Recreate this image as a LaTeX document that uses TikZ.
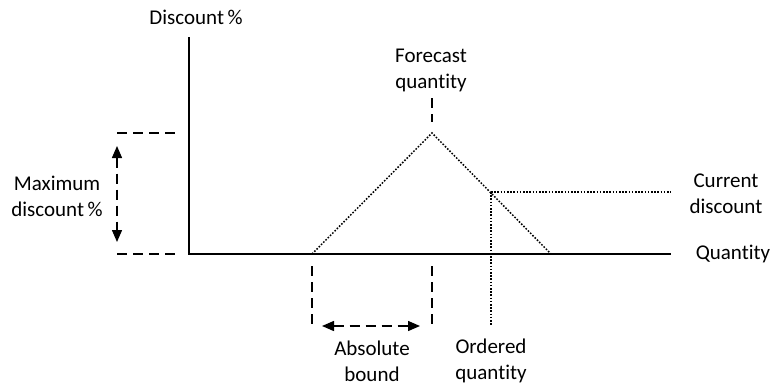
\documentclass[tikz,border=0pt]{standalone}
\usepackage{fontspec}
\setmainfont{Carlito}[Ligatures=NoCommon]
\usetikzlibrary{arrows.meta}
\begin{document}
\begin{tikzpicture}[x=1pt,y=-1pt,
  lbl/.style={align=center,inner sep=0pt,font=\fontsize{21}{26}\selectfont},
  axis/.style={line width=2pt},
  dashln/.style={line width=1.4pt,dash pattern=on 10pt off 6pt},
  dotln/.style={line width=1.5pt,dash pattern=on 1.6pt off 1.6pt},
  tip/.style={{Triangle[length=12pt,width=10pt]}-{Triangle[length=12pt,width=10pt]}}]
\useasboundingbox (0,0) rectangle (771,386);
% coordinates
\coordinate (O) at (189,254);
\coordinate (Ytop) at (189,37);
\coordinate (Xend) at (671,254);
\coordinate (A) at (312,254);
\coordinate (P) at (432,133);
\coordinate (B) at (551,254);
\coordinate (C) at (491,192);
\coordinate (Cend) at (671,192);
\coordinate (Cbot) at (491,326);
\coordinate (mt1) at (117,133); \coordinate (mt2) at (178,133);
\coordinate (mb1) at (117,254); \coordinate (mb2) at (178,254);
\coordinate (va1) at (117,146); \coordinate (va2) at (117,242);
\coordinate (fq1) at (432,98); \coordinate (fq2) at (432,122);
\coordinate (d1a) at (312,266); \coordinate (d1b) at (312,328);
\coordinate (d2a) at (432,266); \coordinate (d2b) at (432,328);
\coordinate (ha1) at (322,326); \coordinate (ha2) at (420,326);
% labels
\node[lbl] (disc) at (196,17) {Discount\,\%};
\node[lbl] (maxd) at (57,196) {Maximum\\discount\,\%};
\node[lbl] (fore) at (431,70) {Forecast\\quantity};
\node[lbl] (curr) at (726,194) {Current\\discount};
\node[lbl] (qty) at (733,254) {Quantity};
\node[lbl] (ord) at (491,361) {Ordered\\quantity};
\node[lbl] (abs) at (372,361) {Absolute\\bound};
% axes
\draw[axis] (Ytop) -- (O) -- (Xend);
% triangle
\draw[dotln] (A) -- (P) -- (B);
\draw[dotln] (C) -- (Cend);
\draw[dotln] (C) -- (Cbot);
% dashed guides
\draw[dashln] (mt1) -- (mt2);
\draw[dashln] (mb1) -- (mb2);
\draw[dashln,tip] (va1) -- (va2);
\draw[dashln] (fq1) -- (fq2);
\draw[dashln] (d1a) -- (d1b);
\draw[dashln] (d2a) -- (d2b);
\draw[dashln,tip] (ha1) -- (ha2);
\end{tikzpicture}
\end{document}
